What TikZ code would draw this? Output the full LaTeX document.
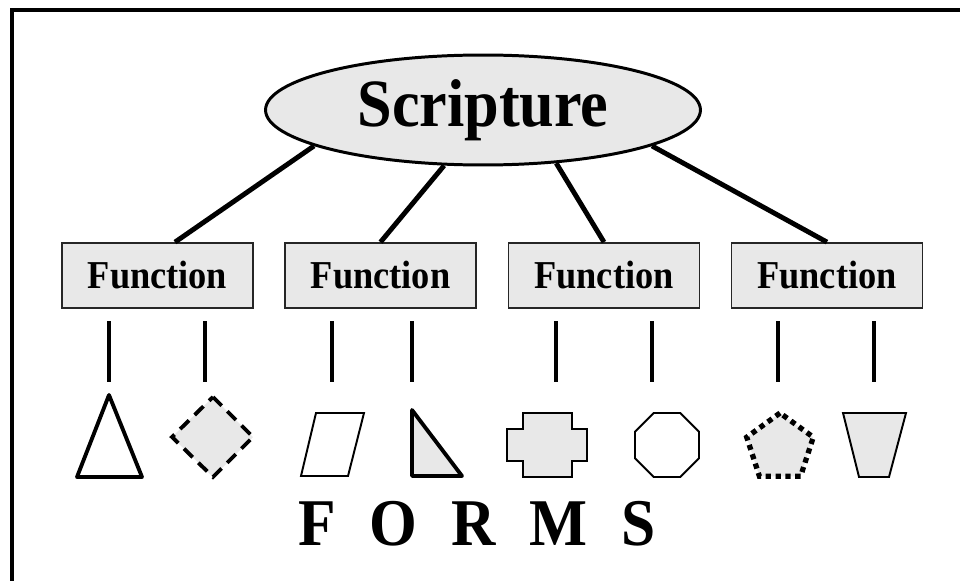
\documentclass[tikz,border=0pt]{standalone}
\usepackage{fontspec}
\setmainfont{Liberation Serif}[FakeStretch=0.92]
\newfontfamily\formsfont[FakeStretch=0.92, WordSpace=2.2]{Liberation Serif}
\usetikzlibrary{shapes.geometric}
\definecolor{shapegray}{RGB}{232,232,232}

\begin{document}
\begin{tikzpicture}[x=0.02cm, y=-0.02cm,
  frameline/.style={line width=2.3pt, line join=miter},
  link/.style={line width=2.8pt},
  stem/.style={line width=1.9pt},
  funcbox/.style={draw=black!85, line width=1pt, fill=shapegray, inner sep=0pt,
    minimum width=3.82cm, minimum height=1.3cm, font=\fontsize{22.5}{26}\selectfont\bfseries},
  thinshape/.style={draw, line width=1.1pt, line join=miter},
  thickshape/.style={draw, line width=2.2pt, line join=round}]
  \useasboundingbox (0,0) rectangle (960,581);

  % Frame (top and left edges only)
  \draw[frameline] (12,581) -- (12,10) -- (960,10);

  % Scripture ellipse
  \node[ellipse, draw, line width=1.7pt, fill=shapegray, inner sep=0pt,
    minimum width=8.7cm, minimum height=2.2cm,
    font=\fontsize{38.5}{42}\selectfont\bfseries] (scr) at (483,110) {Scripture};

  % Function boxes
  \node[funcbox] (fn1) at (157.5,275.5) {Function};
  \node[funcbox] (fn2) at (380.5,275.5) {Function};
  \node[funcbox] (fn3) at (604,275.5) {Function};
  \node[funcbox] (fn4) at (827,275.5) {Function};

  % Links from Scripture
  \draw[link] (scr.192) -- ([xshift=0.35cm]fn1.north);
  \draw[link] (scr.235) -- (fn2.north);
  \draw[link] (scr.324) -- (fn3.north);
  \draw[link] (scr.348) -- (fn4.north);

  % Stems under the boxes
  \foreach \x [count=\i] in {109,205,332,412,556,652,778,874} {
    \coordinate (st\i) at (\x,321);
    \coordinate (sb\i) at (\x,382);
    \draw[stem] (st\i) -- (sb\i);
  }

  % Forms
  \draw[thickshape, fill=white] (109,395) -- (142,477) -- (77,477) -- cycle;
  \draw[thickshape, fill=shapegray, line join=miter, dash pattern=on 7pt off 4.5pt]
    (213,397) -- (253,437) -- (213,477) -- (172,437) -- cycle;
  \draw[thinshape, fill=white] (316,413) -- (364,413) -- (348,476) -- (301,476) -- cycle;
  \draw[thickshape, fill=shapegray] (412,410) -- (462,476) -- (412,476) -- cycle;
  \draw[thinshape, fill=shapegray] (523,413) -- (572,413) -- (572,429) -- (587,429)
    -- (587,461) -- (572,461) -- (572,477) -- (523,477) -- (523,461) -- (507,461)
    -- (507,429) -- (523,429) -- cycle;
  \node[regular polygon, regular polygon sides=8, thinshape, fill=white,
    inner sep=0pt, minimum size=1.386cm] (oct) at (667,445) {};
  \node[regular polygon, regular polygon sides=5, draw, fill=shapegray,
    line width=3pt, dash pattern=on 3pt off 2.6pt,
    inner sep=0pt, minimum size=1.4cm] (pent) at (780,448) {};
  \draw[thinshape, fill=shapegray] (843,413) -- (906,413) -- (889,477) -- (859,477) -- cycle;

  % Caption
  \node[anchor=base, font=\formsfont\bfseries\fontsize{38}{42}\selectfont]
    (forms) at (477,545) {F O R M S};
\end{tikzpicture}
\end{document}
